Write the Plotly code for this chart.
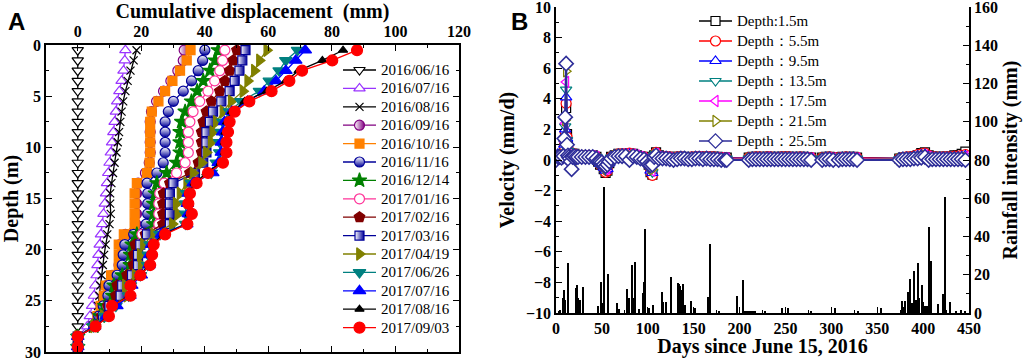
import plotly.graph_objects as go

# ---------------- Panel A data ----------------
depth = [0.5, 1.5, 2.5, 3.5, 4.5, 5.5, 6.5, 7.5, 8.5, 9.5, 10.5, 11.5, 12.5, 13.5, 14.5,
         15.5, 16.5, 17.5, 18.5, 19.5, 20.5, 21.5, 22.5, 23.5, 24.5, 25.5, 26.5, 27.5, 28.5, 29.5]
dates = ["2016/06/16", "2016/07/16", "2016/08/16", "2016/09/16", "2016/10/16", "2016/11/16",
         "2016/12/14", "2017/01/16", "2017/02/16", "2017/03/16", "2017/04/19", "2017/06/26",
         "2017/07/16", "2017/08/16", "2017/09/03"]
d_160616 = [0] * 30
d_160716 = [15.0, 14.8, 14.4, 13.8, 13.1, 12.4, 12.0, 11.6, 11.2, 10.8, 10.4, 10.0, 9.6, 9.2, 8.9,
            8.5, 8.1, 7.7, 7.3, 6.9, 6.5, 6.2, 5.9, 5.5, 5.1, 4.5, 3.8, 3.0, 0, 0]
d_160816 = [18.5, 17.6, 16.6, 15.7, 15.0, 14.3, 13.8, 13.4, 13.0, 12.6, 12.2, 11.6, 11.1, 10.6, 10.2,
            10.2, 10.4, 10.0, 9.3, 8.8, 8.3, 7.9, 7.5, 7.1, 6.8, 6.4, 5.6, 5.0, 0, 0]
d_160916 = [33.5, 33.2, 31.5, 29.3, 27.0, 24.8, 23.2, 22.8, 22.8, 22.8, 22.8, 22.5, 21.3, 19.0, 18.5,
            18.5, 18.5, 18.3, 15.0, 13.3, 13.2, 13.0, 10.8, 9.0, 8.5, 7.4, 6.4, 5.0, 0, 0]
d_161016 = [35.5, 34.3, 32.2, 29.8, 27.5, 25.4, 23.3, 22.8, 22.8, 22.8, 22.8, 22.6, 21.8, 18.6, 17.9,
            17.9, 17.9, 17.9, 14.5, 12.9, 12.9, 12.9, 10.5, 8.8, 8.2, 7.2, 6.2, 5.0, 0, 0]
d_161116 = [40.0, 39.3, 37.9, 35.8, 33.2, 30.1, 28.5, 27.5, 27.5, 27.5, 27.5, 26.9, 24.9, 21.8, 22.0,
            22.0, 22.0, 21.5, 17.6, 14.8, 14.3, 14.0, 12.4, 9.8, 9.5, 8.0, 6.6, 5.0, 0, 0]
d_161214 = [44.2, 43.2, 41.6, 39.5, 37.6, 35.8, 33.8, 32.7, 32.2, 32.2, 32.2, 31.1, 28.0, 24.9, 24.4,
            23.9, 23.9, 23.9, 18.6, 17.1, 16.6, 16.5, 14.0, 11.4, 11.0, 8.5, 7.0, 5.0, 0, 0]
d_170116 = [46.3, 45.6, 44.7, 43.1, 41.0, 38.4, 36.3, 35.3, 34.8, 34.8, 34.8, 33.8, 31.1, 27.2, 25.8,
            25.5, 25.5, 25.5, 20.2, 18.6, 18.0, 18.0, 16.0, 12.9, 12.5, 9.5, 7.5, 5.0, 0, 0]
d_170216 = [50.1, 48.9, 47.8, 46.3, 44.7, 42.1, 40.5, 39.5, 39.0, 39.0, 39.0, 38.0, 35.3, 29.0, 27.0,
            26.8, 26.8, 26.8, 21.3, 18.1, 17.6, 17.5, 15.5, 12.4, 12.0, 9.5, 7.5, 5.0, 0, 0]
d_170316 = [52.8, 51.8, 50.9, 49.4, 47.8, 45.2, 42.6, 41.6, 40.5, 40.5, 40.5, 39.5, 36.9, 30.1, 29.0,
            29.0, 29.0, 29.0, 21.8, 19.7, 19.0, 19.0, 17.1, 14.0, 13.5, 10.0, 8.0, 5.0, 0, 0]
d_170419 = [59.5, 57.2, 55.6, 53.5, 52.0, 48.3, 45.7, 43.6, 42.5, 42.0, 40.5, 39.0, 36.3, 34.3, 32.2,
            31.0, 31.5, 29.8, 23.9, 20.7, 19.7, 20.0, 18.1, 15.0, 15.5, 11.0, 8.0, 5.0, 0, 0]
d_170626 = [69.2, 65.5, 63.4, 60.3, 57.2, 51.4, 47.8, 45.7, 45.2, 44.7, 44.7, 43.6, 42.0, 35.8, 34.3,
            34.0, 34.0, 34.0, 25.9, 22.8, 22.2, 22.0, 19.7, 16.6, 16.0, 12.0, 8.5, 5.0, 0, 0]
d_170716 = [71.6, 68.6, 65.5, 62.4, 58.7, 53.5, 48.5, 46.2, 45.6, 45.2, 45.2, 44.2, 42.5, 36.3, 34.8,
            34.5, 34.8, 34.3, 26.3, 23.2, 22.6, 22.4, 20.0, 17.0, 16.4, 12.3, 9.0, 5.3, 0, 0]
d_170816 = [83.5, 77.0, 69.5, 65.5, 59.5, 52.5, 48.5, 47.0, 46.5, 46.3, 46.3, 45.0, 40.5, 36.8, 35.0,
            34.6, 35.3, 34.2, 27.0, 23.5, 23.0, 22.5, 19.5, 16.4, 16.3, 10.8, 9.6, 5.5, 0, 0]
d_170903 = [87.9, 80.1, 70.6, 66.6, 61.0, 54.0, 49.4, 47.8, 47.3, 46.8, 46.8, 45.7, 41.0, 37.4, 35.3,
            34.8, 35.9, 34.5, 27.5, 23.9, 23.4, 22.8, 19.7, 16.6, 16.6, 10.8, 9.8, 5.6, 0, 0]

# ---------------- Panel B data ----------------
days = ([0, 2, 4, 6, 8, 9, 10, 11, 12, 13, 14, 15, 16, 17, 18, 20, 22, 24, 28, 32, 36, 40, 44,
         46, 48, 50, 52, 54, 56, 58, 60, 64, 68, 72, 76, 80, 84, 88, 92, 96,
         99, 101, 103, 105, 107, 109, 112, 116, 120, 124, 128, 132, 136, 140, 144, 148, 152, 156,
         160, 164, 168, 172, 176, 180, 184, 186]
        + [210, 214, 218, 222, 226, 230, 234, 238, 242, 246, 250, 254, 258, 262, 266, 270, 274, 278]
        + [290, 294, 298, 302]
        + [308, 312, 316, 320, 324, 328]
        + [374, 378, 382, 386, 390, 394, 398, 402, 406, 410, 414, 418, 422, 426, 430, 434, 438, 442, 446])

depth_labels = ["Depth:1.5m", "Depth\uff1a5.5m", "Depth\uff1a9.5m", "Depth\uff1a13.5m",
                "Depth\uff1a17.5m", "Depth\uff1a21.5m", "Depth\uff1a25.5m"]

v_1_5 = ([0.2, 0.3, 0.3, 0.2, 0.4, 0.8, 1.7, 3.4, 1.7, 0.9, 0.4, 0.3, 0.2, 0.1, 0.4, 0.4, 0.3, 0.3,
          0.3, 0.3, 0.3, 0.3, 0.2, -0.1, -0.3, -0.3, -0.6, -0.85, -0.7, -0.2, 0.2,
          0.3, 0.4, 0.3, 0.4, 0.4, 0.4, 0.3, 0.2, 0.2, 0.0, -0.3, -0.8, -0.95, 0.3, 0.5,
          0.3, 0.2, 0.2, 0.2, 0.15, 0.2, 0.2, 0.2, 0.15, 0.15, 0.2, 0.2, 0.2, 0.2, 0.2, 0.2, 0.2, 0.15, 0.15, 0.15]
         + [0.15, 0.2, 0.2, 0.15, 0.2, 0.2, 0.2, 0.15, 0.2, 0.2, 0.2, 0.2, 0.2, 0.15, 0.2, 0.2, 0.15, 0.15]
         + [0.15, 0.2, 0.2, 0.15]
         + [0.15, 0.2, 0.15, 0.2, 0.2, 0.15]
         + [0.1, 0.15, 0.15, 0.2, 0.2, 0.3, 0.45, 0.5, 0.3, 0.2, 0.2, 0.2, 0.2, 0.2, 0.2, 0.3, 0.3, 0.4, 0.55])
v_5_5 = ([0.3, 0.3, 0.2, 0.3, 0.4, 0.9, 1.8, 3.7, 1.5, 0.8, 0.4, 0.3, 0.2, 0.0, 0.3, 0.4, 0.3, 0.3,
          0.3, 0.3, 0.3, 0.2, 0.2, -0.1, -0.3, -0.3, -0.5, -0.8, -0.7, -0.2, 0.2,
          0.3, 0.4, 0.4, 0.4, 0.45, 0.4, 0.3, 0.2, 0.2, 0.0, -0.3, -0.8, -1.0, 0.3, 0.5,
          0.25, 0.2, 0.2, 0.2, 0.15, 0.2, 0.2, 0.15, 0.15, 0.2, 0.2, 0.2, 0.2, 0.2, 0.2, 0.2, 0.15, 0.15, 0.15, 0.1]
         + [0.15, 0.15, 0.2, 0.2, 0.15, 0.2, 0.2, 0.15, 0.15, 0.2, 0.2, 0.2, 0.15, 0.15, 0.2, 0.15, 0.15, 0.15]
         + [0.15, 0.15, 0.2, 0.15]
         + [0.15, 0.15, 0.2, 0.15, 0.15, 0.15]
         + [0.1, 0.15, 0.2, 0.2, 0.25, 0.35, 0.4, 0.45, 0.3, 0.2, 0.2, 0.15, 0.2, 0.2, 0.2, 0.25, 0.25, 0.3, 0.35])
v_9_5 = ([0.2, 0.4, 0.3, 0.3, 0.3, 1.0, 2.0, 4.1, 1.4, 0.7, 0.3, 0.4, 0.2, -0.1, 0.3, 0.3, 0.3, 0.3,
          0.3, 0.3, 0.25, 0.3, 0.2, -0.1, -0.25, -0.3, -0.5, -0.7, -0.6, -0.2, 0.2,
          0.3, 0.35, 0.4, 0.4, 0.4, 0.35, 0.3, 0.2, 0.15, 0.0, -0.25, -0.7, -0.85, 0.3, 0.45,
          0.2, 0.2, 0.15, 0.15, 0.1, 0.15, 0.15, 0.15, 0.1, 0.15, 0.15, 0.15, 0.15, 0.15, 0.15, 0.15, 0.1, 0.1, 0.1, 0.1]
         + [0.1, 0.15, 0.15, 0.15, 0.15, 0.15, 0.15, 0.15, 0.15, 0.15, 0.15, 0.15, 0.15, 0.1, 0.15, 0.15, 0.1, 0.1]
         + [0.1, 0.15, 0.15, 0.1]
         + [0.1, 0.15, 0.1, 0.15, 0.15, 0.1]
         + [0.1, 0.1, 0.15, 0.15, 0.2, 0.3, 0.35, 0.4, 0.25, 0.15, 0.15, 0.15, 0.15, 0.15, 0.15, 0.2, 0.2, 0.25, 0.3])
v_13_5 = ([0.2, 0.3, 0.3, 0.2, 0.3, 1.1, 2.2, 4.6, 1.3, 0.6, 0.3, 0.3, 0.1, -0.2, 0.3, 0.3, 0.3, 0.25,
           0.25, 0.3, 0.25, 0.25, 0.2, -0.1, -0.2, -0.3, -0.45, -0.65, -0.5, -0.2, 0.15,
           0.3, 0.35, 0.35, 0.35, 0.4, 0.35, 0.3, 0.2, 0.15, 0.0, -0.2, -0.6, -0.8, 0.3, 0.4,
           0.2, 0.15, 0.15, 0.15, 0.1, 0.15, 0.15, 0.15, 0.1, 0.1, 0.15, 0.15, 0.15, 0.15, 0.15, 0.15, 0.1, 0.1, 0.1, 0.1]
          + [0.1, 0.1, 0.15, 0.1, 0.15, 0.15, 0.1, 0.1, 0.15, 0.15, 0.1, 0.15, 0.1, 0.1, 0.15, 0.1, 0.1, 0.1]
          + [0.1, 0.1, 0.15, 0.1]
          + [0.1, 0.1, 0.1, 0.15, 0.1, 0.1]
          + [0.05, 0.1, 0.1, 0.15, 0.2, 0.25, 0.3, 0.35, 0.2, 0.15, 0.1, 0.1, 0.15, 0.1, 0.1, 0.15, 0.15, 0.2, 0.25])
v_17_5 = ([0.1, 0.3, 0.25, 0.2, 0.3, 1.2, 2.4, 5.1, 1.2, 0.5, 0.3, 0.2, 0.1, -0.3, 0.3, 0.3, 0.25, 0.25,
           0.25, 0.25, 0.25, 0.25, 0.2, -0.1, -0.2, -0.25, -0.4, -0.6, -0.5, -0.15, 0.15,
           0.3, 0.3, 0.35, 0.35, 0.35, 0.35, 0.3, 0.2, 0.1, 0.0, -0.2, -0.55, -0.7, 0.3, 0.4,
           0.2, 0.15, 0.15, 0.1, 0.1, 0.1, 0.15, 0.1, 0.1, 0.1, 0.15, 0.15, 0.1, 0.15, 0.1, 0.1, 0.1, 0.1, 0.1, 0.1]
          + [0.1, 0.1, 0.1, 0.1, 0.1, 0.15, 0.1, 0.1, 0.1, 0.1, 0.1, 0.1, 0.1, 0.1, 0.1, 0.1, 0.1, 0.1]
          + [0.1, 0.1, 0.1, 0.1]
          + [0.1, 0.1, 0.1, 0.1, 0.1, 0.1]
          + [0.05, 0.1, 0.1, 0.1, 0.15, 0.2, 0.25, 0.3, 0.2, 0.1, 0.1, 0.1, 0.1, 0.1, 0.1, 0.1, 0.15, 0.15, 0.2])
v_21_5 = ([0.1, 0.25, 0.25, 0.2, 0.3, 1.3, 2.6, 5.8, 1.1, 0.4, 0.2, 0.2, 0.0, -0.4, 0.25, 0.3, 0.25, 0.2,
           0.25, 0.25, 0.2, 0.2, 0.15, -0.1, -0.15, -0.2, -0.35, -0.5, -0.4, -0.1, 0.1,
           0.25, 0.3, 0.3, 0.3, 0.3, 0.3, 0.25, 0.15, 0.1, -0.05, -0.2, -0.5, -0.6, 0.25, 0.35,
           0.15, 0.1, 0.1, 0.1, 0.05, 0.1, 0.1, 0.1, 0.1, 0.1, 0.1, 0.1, 0.1, 0.1, 0.1, 0.1, 0.1, 0.05, 0.05, 0.05]
          + [0.05, 0.1, 0.1, 0.05, 0.1, 0.1, 0.05, 0.1, 0.1, 0.05, 0.1, 0.1, 0.05, 0.05, 0.1, 0.05, 0.05, 0.05]
          + [0.05, 0.1, 0.05, 0.05]
          + [0.05, 0.05, 0.1, 0.05, 0.05, 0.05]
          + [0.05, 0.05, 0.1, 0.1, 0.1, 0.15, 0.2, 0.25, 0.15, 0.1, 0.05, 0.1, 0.05, 0.1, 0.05, 0.1, 0.1, 0.1, 0.15])
v_25_5 = ([0.0, 0.2, 0.2, 0.15, 0.25, 1.4, 2.8, 6.3, 1.0, 0.3, 0.2, 0.1, -0.1, -0.6, 0.2, 0.25, 0.2, 0.2,
           0.2, 0.2, 0.2, 0.2, 0.1, -0.09, -0.1, -0.15, -0.3, -0.4, -0.3, -0.1, 0.1,
           0.2, 0.25, 0.25, 0.25, 0.0, 0.25, 0.2, 0.1, 0.05, -0.1, -0.3, -0.35, -0.3, 0.2, 0.3,
           0.1, 0.1, 0.1, 0.05, 0.0, 0.05, 0.1, 0.1, 0.05, 0.05, 0.1, 0.1, 0.05, 0.1, 0.05, 0.05, 0.05, 0.0, 0.0, 0.0]
          + [0.0, 0.05, 0.05, 0.05, 0.05, 0.05, 0.05, 0.05, 0.05, 0.05, 0.05, 0.05, 0.05, 0.05, 0.05, 0.05, 0.05, 0.0]
          + [0.0, 0.05, 0.05, 0.0]
          + [0.0, 0.05, 0.05, 0.05, 0.05, 0.0]
          + [0.0, 0.05, 0.05, 0.05, 0.1, 0.1, 0.15, 0.2, 0.0, 0.05, 0.05, 0.05, 0.05, 0.05, 0.05, 0.05, 0.05, 0.05, 0.0])

rain_day = [3, 5, 7.6, 9.4, 10.5, 13, 22, 23, 24, 26.5, 29.4, 30, 45.7, 49.3, 50.5, 52.2, 56.6,
            66.8, 69.3, 77.7, 79.5, 82.7, 84, 86.7, 90.4, 94.7, 95.6, 96.9, 102, 105.6,
            115.5, 117.3, 120.2, 125.6, 132.7, 134, 135.5, 137, 138.3, 141.2, 147.3, 152,
            166.4, 167.5, 177.5, 197.1, 203.7, 205, 206, 207, 208, 209, 210, 211, 212, 213, 214,
            215, 216, 217, 228, 247, 253, 278.5, 304, 329, 354,
            377, 379, 381, 383.5, 386, 388, 390, 392, 394.3, 396.2, 398.6, 400, 402, 404, 405,
            407, 408.6, 416, 421.5, 424.4, 429.5, 436, 441.6, 446.4]
rain_mm = [1, 1.5, 7.7, 12, 6.8, 26.3, 12.9, 14.6, 8, 7, 13.4, 3, 3.7, 16.4, 5, 65.7, 20.5,
           5, 2, 12.4, 8, 25.3, 8, 26.8, 2, 10.3, 16, 43.8, 2.4, 4.2,
           10.8, 6, 6, 18.6, 15.8, 15, 14, 12, 15, 4, 6.5, 2.4,
           8.2, 36, 1, 8.9, 17.3, 1, 1, 1, 1, 1, 1, 1, 1, 1, 1,
           1, 1, 1, 1, 2.8, 2.8, 1, 2.8, 1, 2.8,
           6.3, 3, 6.3, 11.2, 17.6, 5, 22, 7, 26, 7.7, 14.6, 6, 3.4, 3.4, 2,
           45, 27.4, 4.7, 9.8, 60.8, 6, 0.7, 1.6, 1]

# ---------------- Styles ----------------
SERIF = "Liberation Serif"
W, H = 1031, 358
a_series = [d_160616, d_160716, d_160816, d_160916, d_161016, d_161116, d_161214, d_170116,
            d_170216, d_170316, d_170419, d_170626, d_170716, d_170816, d_170903]
a_styles = [
    dict(color="#000000", symbol="triangle-down", fill="white", grad=None, size=10),
    dict(color="#9933FF", symbol="triangle-up", fill="white", grad=None, size=10),
    dict(color="#000000", symbol="x-thin", fill="#000000", grad=None, size=8),
    dict(color="#800080", symbol="circle", fill="white", grad="horizontal", size=10),
    dict(color="#FF8000", symbol="square", fill="#FF8000", grad=None, size=9),
    dict(color="#000099", symbol="circle", fill="white", grad="vertical", size=10),
    dict(color="#008000", symbol="star", fill="#008000", grad=None, size=11),
    dict(color="#FF3399", symbol="circle", fill="white", grad=None, size=10),
    dict(color="#800000", symbol="pentagon", fill="#800000", grad=None, size=11),
    dict(color="#000099", symbol="square", fill="white", grad="horizontal", size=9),
    dict(color="#808000", symbol="triangle-right", fill="#808000", grad=None, size=11),
    dict(color="#008080", symbol="triangle-down", fill="#008080", grad=None, size=11),
    dict(color="#0000FF", symbol="triangle-up", fill="#0000FF", grad=None, size=11),
    dict(color="#000000", symbol="triangle-up", fill="#000000", grad=None, size=8),
    dict(color="#FF0000", symbol="circle", fill="#FF0000", grad=None, size=11),
]
b_series = [v_1_5, v_5_5, v_9_5, v_13_5, v_17_5, v_21_5, v_25_5]
b_styles = [
    dict(color="#000000", symbol="square", fill="white", grad=None, size=9),
    dict(color="#FF0000", symbol="circle", fill="white", grad=None, size=10),
    dict(color="#0000FF", symbol="triangle-up", fill="white", grad=None, size=10),
    dict(color="#008080", symbol="triangle-down", fill="white", grad=None, size=10),
    dict(color="#FF00FF", symbol="triangle-left", fill="white", grad=None, size=10),
    dict(color="#808000", symbol="triangle-right", fill="white", grad=None, size=10),
    dict(color="#2E2E99", symbol="diamond", fill="white", grad=None, size=11),
]


def make_marker(st, lw=1.2):
    m = dict(symbol=st["symbol"], size=st["size"], color=st["fill"],
             line=dict(color=st["color"], width=lw))
    if st["grad"]:
        m["gradient"] = dict(type=st["grad"], color=st["color"])
    return m


fig = go.Figure()
for name, vals, st in zip(dates, a_series, a_styles):
    fig.add_trace(go.Scatter(x=vals, y=depth, mode="lines+markers", name=name, showlegend=False,
                             line=dict(color=st["color"], width=1.3), marker=make_marker(st),
                             xaxis="x", yaxis="y"))

# rainfall bars (right axis of panel B)
fig.add_trace(go.Bar(x=rain_day, y=rain_mm, width=1.6, marker=dict(color="black", line=dict(width=0)),
                     xaxis="x2", yaxis="y3", showlegend=False))

for name, vals, st in zip(depth_labels, b_series, b_styles):
    is_d = st["symbol"] == "diamond"
    fig.add_trace(go.Scatter(x=days, y=vals, mode="lines+markers", name=name, showlegend=False,
                             line=dict(color=st["color"], width=2.2 if is_d else 1.5),
                             marker=make_marker(st, 1.6 if is_d else 1.2),
                             xaxis="x2", yaxis="y2"))

# ---------------- hand-drawn legends (pixel overlay axis) ----------------
annotations = []


def add_legend(names, styles, x0, x1, y_first, step, text_x):
    for i, (name, st) in enumerate(zip(names, styles)):
        yc = y_first + i * step
        xm = (x0 + x1) / 2
        fig.add_trace(go.Scatter(x=[x0, xm, x1], y=[yc, yc, yc], mode="lines+markers",
                                 line=dict(color=st["color"], width=1.3),
                                 marker=dict(make_marker(st), opacity=[0, 1, 0]),
                                 xaxis="x3", yaxis="y4", showlegend=False, hoverinfo="skip"))
        annotations.append(dict(text=name, x=text_x / W, y=1 - yc / H, xref="paper", yref="paper",
                                xanchor="left", yanchor="middle", showarrow=False,
                                font=dict(family=SERIF, size=15, color="black")))


add_legend(dates, a_styles, 343, 376, 70, 18.4, 379)
add_legend(depth_labels, b_styles, 699, 732, 21, 20.0, 735)

tickfont = dict(family=SERIF, size=16, color="black", weight="bold")
titlefont = dict(family=SERIF, size=20, color="black", weight="bold")
common = dict(showgrid=False, zeroline=False, showline=True, linecolor="black", linewidth=1.5,
              ticks="inside", ticklen=6, tickwidth=1.3, tickcolor="black", tickfont=tickfont,
              automargin=False, ticklabeloverflow="allow")

annotations += [
    dict(text="<b>A</b>", x=6 / W, y=1 - 6 / H, xref="paper", yref="paper",
         xanchor="left", yanchor="top", showarrow=False,
         font=dict(family="Liberation Sans", size=24, color="black")),
    dict(text="<b>B</b>", x=509 / W, y=1 - 6 / H, xref="paper", yref="paper",
         xanchor="left", yanchor="top", showarrow=False,
         font=dict(family="Liberation Sans", size=24, color="black")),
]

fig.update_layout(
    width=W, height=H, autosize=False,
    margin=dict(l=0, r=0, t=0, b=0),
    paper_bgcolor="white", plot_bgcolor="rgba(0,0,0,0)",
    font=dict(family=SERIF, color="black"),
    bargap=0, showlegend=False,
    xaxis=dict(domain=[0.0446, 0.4452], anchor="y", side="top", range=[-10, 120], tick0=0, dtick=20,
               mirror="ticks", minor=dict(dtick=10, ticks="inside", ticklen=3, tickcolor="black"),
               title=dict(text="Cumulative displacement  (mm)", font=titlefont, standoff=2),
               **common),
    yaxis=dict(domain=[0.0168, 0.874], anchor="x", range=[30, 0], dtick=5, mirror="ticks",
               minor=dict(dtick=2.5, ticks="inside", ticklen=3, tickcolor="black"),
               title=dict(text="Depth (m)", font=titlefont, standoff=6), **common),
    xaxis2=dict(domain=[0.5393, 0.9399], anchor="y2", range=[0, 450], dtick=50,
                minor=dict(dtick=25, ticks="inside", ticklen=3, tickcolor="black"),
                title=dict(text="Days since June 15, 2016", font=titlefont, standoff=2), **common),
    yaxis2=dict(domain=[0.1257, 0.9804], anchor="x2", range=[-10, 10], dtick=2,
                minor=dict(dtick=1, ticks="inside", ticklen=3, tickcolor="black"),
                title=dict(text="Velocity (mm/d)", font=titlefont, standoff=6), **common),
    yaxis3=dict(domain=[0.1257, 0.9804], anchor="x2", overlaying="y2", side="right", range=[0, 160],
                dtick=20, minor=dict(dtick=10, ticks="inside", ticklen=3, tickcolor="black"),
                title=dict(text="Rainfall intensity (mm)", font=titlefont, standoff=6), **common),
    xaxis3=dict(domain=[0, 1], anchor="y4", range=[0, W], visible=False, fixedrange=True),
    yaxis4=dict(domain=[0, 1], anchor="x3", range=[H, 0], visible=False, fixedrange=True),
    annotations=annotations,
)

fig.write_html("out.html", config={"displayModeBar": False},
               post_script="document.body.style.margin='0';")
